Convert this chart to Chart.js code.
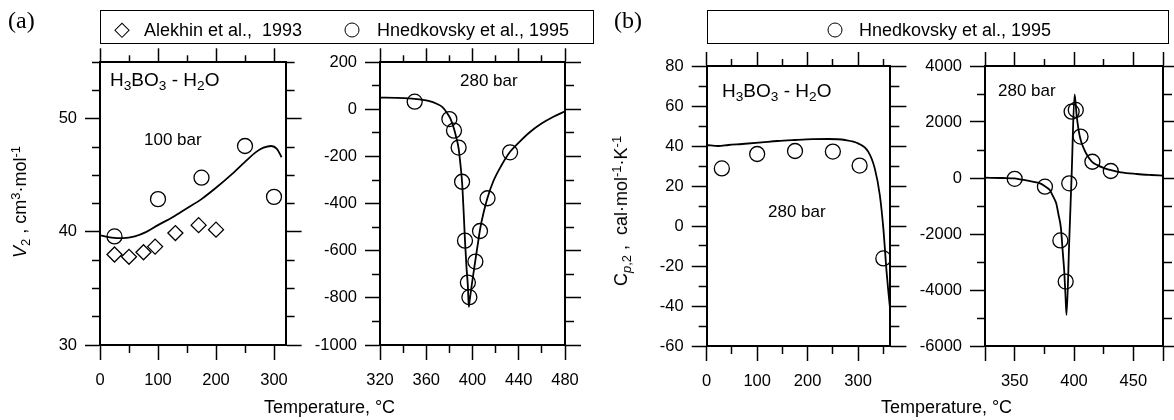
<!DOCTYPE html>
<html>
<head>
<meta charset="utf-8">
<title>H3BO3 - H2O</title>
<script src="https://cdn.jsdelivr.net/npm/chart.js@4.4.1/dist/chart.umd.min.js"></script>
<style>
  html, body { margin: 0; padding: 0; background: #fff; }
  #page { position: relative; width: 1174px; height: 420px; overflow: hidden;
          font-family: "Liberation Sans", Arial, Helvetica, sans-serif; color: #000; }
  #page canvas { position: absolute; left: 0; top: 0; }
  .t { position: absolute; white-space: nowrap; line-height: 1; }
  .t sub { font-size: 0.72em; vertical-align: -0.32em; line-height: 0; }
  .t sup { font-size: 0.72em; vertical-align: 0.45em; line-height: 0; }
  .tag { font-family: "Liberation Serif", "Times New Roman", serif; font-size: 24px; }
  .box { position: absolute; border: 1.3px solid #000; box-sizing: border-box; }
  .dia { position: absolute; width: 10.6px; height: 10.6px; border: 1.3px solid #000; box-sizing: border-box;
         transform: translate(-50%, -50%) rotate(45deg); }
  .circ { position: absolute; width: 15px; height: 15px; border: 1.3px solid #000; border-radius: 50%;
          box-sizing: border-box; transform: translate(-50%, -50%); }
  .ytitle { transform: translate(-50%, -50%) rotate(-90deg); }
  .xtitle { transform: translateX(-50%); }
</style>
</head>
<body>
<div id="page">
  <canvas id="p1" width="1174" height="420"></canvas>
  <canvas id="p2" width="1174" height="420"></canvas>
  <canvas id="p3" width="1174" height="420"></canvas>
  <canvas id="p4" width="1174" height="420"></canvas>

  <!-- (a) header -->
  <div class="t tag" style="left:8px; top:8px;">(a)</div>
  <div class="box" style="left:100px; top:9.5px; width:494px; height:34px;"></div>
  <div class="dia" style="left:121.5px; top:30px;"></div>
  <div class="t" style="left:144px; top:21px; font-size:18px;">Alekhin et al.,&nbsp; 1993</div>
  <div class="circ" style="left:352px; top:30px;"></div>
  <div class="t" style="left:377px; top:21px; font-size:18px;">Hnedkovsky et al., 1995</div>

  <!-- (b) header -->
  <div class="t tag" style="left:614px; top:8px;">(b)</div>
  <div class="box" style="left:707px; top:9.5px; width:462px; height:34px;"></div>
  <div class="circ" style="left:835px; top:30px;"></div>
  <div class="t" style="left:859px; top:21px; font-size:18px;">Hnedkovsky et al., 1995</div>

  <!-- in-plot notes -->
  <div class="t" style="left:110px; top:70px; font-size:19px;">H<sub>3</sub>BO<sub>3</sub> - H<sub>2</sub>O</div>
  <div class="t" style="left:144px; top:130.6px; font-size:17px;">100 bar</div>
  <div class="t" style="left:460px; top:72.3px; font-size:17px;">280 bar</div>
  <div class="t" style="left:722px; top:80.6px; font-size:19px;">H<sub>3</sub>BO<sub>3</sub> - H<sub>2</sub>O</div>
  <div class="t" style="left:768px; top:202.9px; font-size:17px;">280 bar</div>
  <div class="t" style="left:998px; top:82.3px; font-size:17px;">280 bar</div>

  <!-- axis titles -->
  <div class="t ytitle" style="left:19.5px; top:202px; font-size:18px;"><i>V</i><sub>2</sub> , cm<sup>3</sup>·mol<sup>-1</sup></div>
  <div class="t ytitle" style="left:621px; top:211px; font-size:18px;">C<sub><i>p</i>,2</sub> ,&nbsp; cal·mol<sup>-1</sup>·K<sup>-1</sup></div>
  <div class="t xtitle" style="left:329.5px; top:398px; font-size:18px;">Temperature, °C</div>
  <div class="t xtitle" style="left:946.5px; top:398px; font-size:18px;">Temperature, °C</div>
</div>

<script>
const W = 1174, H = 420;
const FONT = '"Liberation Sans", Arial, Helvetica, sans-serif';
const LABEL_W = 80, LABEL_H = 45;   // room kept for tick labels on the left / bottom axes

// ---- (a) left: V2 at 100 bar
const tAlekhin = [25, 50, 75, 95, 130, 170, 200];
const vAlekhin = [38.0, 37.8, 38.2, 38.7, 39.9, 40.6, 40.2];
const tHned100 = [25, 100, 175, 250, 300];
const vHned100 = [39.6, 42.9, 44.8, 47.6, 43.1];
const tFit100 = [0, 20, 40, 60, 80, 100, 125, 150, 175, 200, 225, 250, 270, 282, 295, 305, 313];
const vFit100 = [39.7, 39.5, 39.45, 39.6, 40.0, 40.6, 41.3, 42.1, 42.9, 43.9, 45.0, 46.2, 47.1, 47.45, 47.6, 47.35, 46.6];

// ---- (a) right: V2 at 280 bar
const tHnedV280 = [350, 380, 384, 388, 391, 393.5, 396, 397.3, 402.5, 406.5, 413, 432.5];
const vHnedV280 = [33, -41, -90, -162, -307, -557, -735, -797, -646, -516, -377, -182];
const tFitV280 = [320, 335, 345, 354, 362, 369, 374, 378, 381, 384, 386, 388, 389.5, 391, 392.3, 393.5, 394.8, 396,
                  396.8, 397.5, 399.5, 402.5, 404.5, 406.5, 409.5, 413, 418, 425, 432.5, 440, 450, 460, 470, 480];
const vFitV280 = [50, 49, 47, 43, 36, 24, 10, -15, -40, -82, -120, -165, -230, -310, -430, -557, -670, -750,
                  -838, -812, -740, -640, -575, -510, -440, -375, -305, -238, -180, -141, -95, -59, -31, -8];

// ---- (b) left: Cp,2 at 280 bar
const tHnedC = [30, 100, 175, 250, 303, 350];
const vHnedC = [28.8, 36, 37.5, 37.2, 30.2, -16.2];
const tFitC = [0, 23, 43, 70, 109, 140, 175, 210, 241, 274, 300, 320, 333, 343, 350, 356.4, 360, 364];
const vFitC = [40.5, 40, 40.5, 41, 41.8, 42.5, 43, 43.4, 43.5, 43, 41.3, 37.2, 28.8, 15.5, -1.2, -22.8, -33, -43];

// ---- (b) right: Cp,2 near the critical point
const tHnedC2 = [350, 375.5, 388.5, 393, 396, 398, 401.5, 405.5, 415.5, 431];
const vHnedC2 = [-30, -310, -2230, -3700, -190, 2370, 2430, 1480, 580, 250];
const tFitC2 = [325, 340, 350, 357.7, 365, 371.4, 376, 379.6, 382.5, 385, 387, 389, 390.5, 391.8, 392.8, 393.7,
                396, 398, 400.5, 402.2, 404.1, 406, 408.2, 411, 415, 420, 425.9, 432, 439.6, 453, 465, 475];
const vFitC2 = [10, 0, -15, -71, -132, -190, -310, -429, -668, -904, -1321, -1797, -2631, -3346, -4179, -4893,
                -2230, 90, 2988, 2250, 1654, 1300, 1060, 820, 583, 450, 346, 270, 200, 143, 107, 82];

// ---- axis ticks (major ticks carry labels, minor ticks are short)
const xMajor1 = [0, 100, 200, 300],  xMinor1 = [50, 150, 250];
const yMajor1 = [30, 40, 50],        yMinor1 = [32.5, 35, 37.5, 42.5, 45, 47.5, 52.5, 55];
const xMajor2 = [320, 360, 400, 440, 480], xMinor2 = [340, 380, 420, 460];
const yMajor2 = [-1000, -800, -600, -400, -200, 0, 200], yMinor2 = [-900, -700, -500, -300, -100, 100];
const xMajor3 = [0, 100, 200, 300],  xMinor3 = [50, 150, 250, 350];
const yMajor3 = [-60, -40, -20, 0, 20, 40, 60, 80], yMinor3 = [-50, -30, -10, 10, 30, 50, 70];
const xMajor4 = [325, 350, 400, 450, 475], xLabels4 = [350, 400, 450], xMinor4 = [375, 425];
const yMajor4 = [-6000, -4000, -2000, 0, 2000, 4000], yMinor4 = [-5000, -3000, -1000, 1000, 3000];

const pts = (xs, ys) => xs.map((x, i) => ({ x, y: ys[i] }));

function axis(pos, min, max, values, len, labels, weight, border) {
  const horiz = pos === 'top' || pos === 'bottom';
  // labelled axes keep a fixed box (labels are clipped to it), the others take no room
  const size = labels ? (horiz ? LABEL_H : LABEL_W) : 0;
  return {
    type: 'linear', axis: horiz ? 'x' : 'y', position: pos, min, max, weight,
    afterBuildTicks: s => { s.ticks = values.map(v => ({ value: v })); },
    afterFit: s => { if (horiz) s.height = size; else s.width = size; },
    grid: { drawOnChartArea: false, drawTicks: true, tickLength: len, tickColor: '#000', tickWidth: 1.5 },
    border: { display: border, color: '#000', width: 2 },
    ticks: {
      display: !!labels, autoSkip: false, maxRotation: 0, color: '#000',
      padding: horiz ? 11 : 8,
      font: { family: FONT, size: 16.5 },
      callback: v => (labels && labels.includes(v)) ? String(v) : ''
    }
  };
}

function panel(id, box, xr, yr, xMaj, xMin, xLab, yMaj, yMin, yLab, datasets) {
  const [L, T, R, B] = box;
  new Chart(document.getElementById(id), {
    type: 'scatter',
    data: { datasets },
    options: {
      responsive: false,
      animation: false,
      layout: { padding: { left: L - LABEL_W, top: T, right: W - R, bottom: H - B - LABEL_H } },
      plugins: { legend: { display: false }, tooltip: { enabled: false } },
      scales: {
        x:      axis('bottom', xr[0], xr[1], xMaj, 15, xLab, 1, true),
        xMin:   axis('bottom', xr[0], xr[1], xMin, 8, null, 0, false),
        xTop:   axis('top', xr[0], xr[1], xMaj, 14, null, 1, true),
        xTopMin: axis('top', xr[0], xr[1], xMin, 7, null, 0, false),
        y:      axis('left', yr[0], yr[1], yMaj, 15, yLab, 1, true),
        yMin:   axis('left', yr[0], yr[1], yMin, 8, null, 0, false),
        yRight: axis('right', yr[0], yr[1], yMaj, 16, null, 1, true),
        yRightMin: axis('right', yr[0], yr[1], yMin, 9, null, 0, false)
      }
    }
  });
}

const curve = (xs, ys) => ({
  data: pts(xs, ys), showLine: true, borderColor: '#000', borderWidth: 1.8,
  pointRadius: 0, cubicInterpolationMode: 'monotone', fill: false
});
const marks = (xs, ys, style) => ({
  data: pts(xs, ys), showLine: false, pointStyle: style, pointRadius: 7.5,
  borderColor: '#000', borderWidth: 1.3, backgroundColor: 'rgba(0,0,0,0)'
});

panel('p1', [100, 62.3, 285.6, 345], [0, 320], [30, 55],
  xMajor1, xMinor1, xMajor1, yMajor1, yMinor1, yMajor1,
  [curve(tFit100, vFit100), marks(tAlekhin, vAlekhin, 'rectRot'), marks(tHned100, vHned100, 'circle')]);

panel('p2', [380, 62.3, 565, 345], [320, 480], [-1000, 200],
  xMajor2, xMinor2, xMajor2, yMajor2, yMinor2, yMajor2,
  [curve(tFitV280, vFitV280), marks(tHnedV280, vHnedV280, 'circle')]);

panel('p3', [706.7, 66, 890.4, 346], [0, 364], [-60, 80],
  xMajor3, xMinor3, xMajor3, yMajor3, yMinor3, yMajor3,
  [curve(tFitC, vFitC), marks(tHnedC, vHnedC, 'circle')]);

panel('p4', [985, 66, 1168.3, 346], [325, 475], [-6000, 4000],
  xMajor4, xMinor4, xLabels4, yMajor4, yMinor4, yMajor4,
  [curve(tFitC2, vFitC2), marks(tHnedC2, vHnedC2, 'circle')]);
</script>
</body>
</html>
